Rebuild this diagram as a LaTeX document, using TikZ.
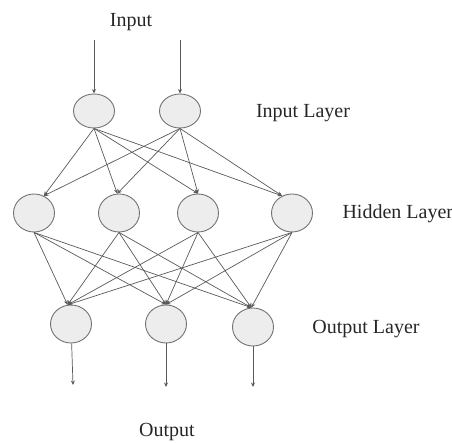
\documentclass[tikz,border=0pt]{standalone}
\usepackage{fontspec}
\setmainfont{Liberation Serif}
\usetikzlibrary{shapes.geometric,arrows.meta}
\tikzset{neuron/.style={ellipse, draw=black!55, fill=black!7, line width=0.9pt, minimum width=41pt, minimum height=38pt, inner sep=0pt},
link/.style={draw=black!65, line width=0.7pt, -{Stealth[length=4.5pt,width=4pt]}},
label/.style={font=\fontsize{20}{22}\selectfont, text=black!85}}

\begin{document}
\begin{tikzpicture}[x=1pt,y=-1pt]

\useasboundingbox (0,0) rectangle (452,443);

\node[neuron, minimum height=34pt] (i1) at (94,111) {};
\node[neuron, minimum height=34pt] (i2) at (180,111) {};

\node[neuron] (h1) at (34,213) {};
\node[neuron] (h2) at (119,213) {};
\node[neuron] (h3) at (198,213) {};
\node[neuron] (h4) at (292,213) {};

\node[neuron] (o1) at (71,324) {};
\node[neuron] (o2) at (166,324) {};
\node[neuron] (o3) at (253,327) {};

\coordinate (in1) at (94,40);
\coordinate (in2) at (180,40);
\coordinate (out1) at (73,385);
\coordinate (out2) at (166,387);
\coordinate (out3) at (253,387);

\foreach \i in {1,2}
    \draw[link] (in\i) -- (i\i);

% all weights end near the top of the next layer
\foreach \i in {1,2}
    \foreach \j/\a in {1/60,2/95,3/90,4/120}
        \draw[link] (i\i.south) -- (h\j.\a);

\foreach \j in {1,2,3,4}
    \foreach \k/\a in {1/100,2/90,3/95}
        \draw[link] (h\j.south) -- (o\k.\a);

\foreach \k in {1,2,3}
    \draw[link] (o\k) -- (out\k);

\node[label] (tin) at (131,22) {Input};
\node[label] (til) at (303,113) {Input Layer};
\node[label, anchor=west] (thl) at (339,214) {Hidden Layer};
\node[label] (tol) at (366,329) {Output Layer};
\node[label] (tout) at (167,432) {Output};

\end{tikzpicture}
\end{document}
